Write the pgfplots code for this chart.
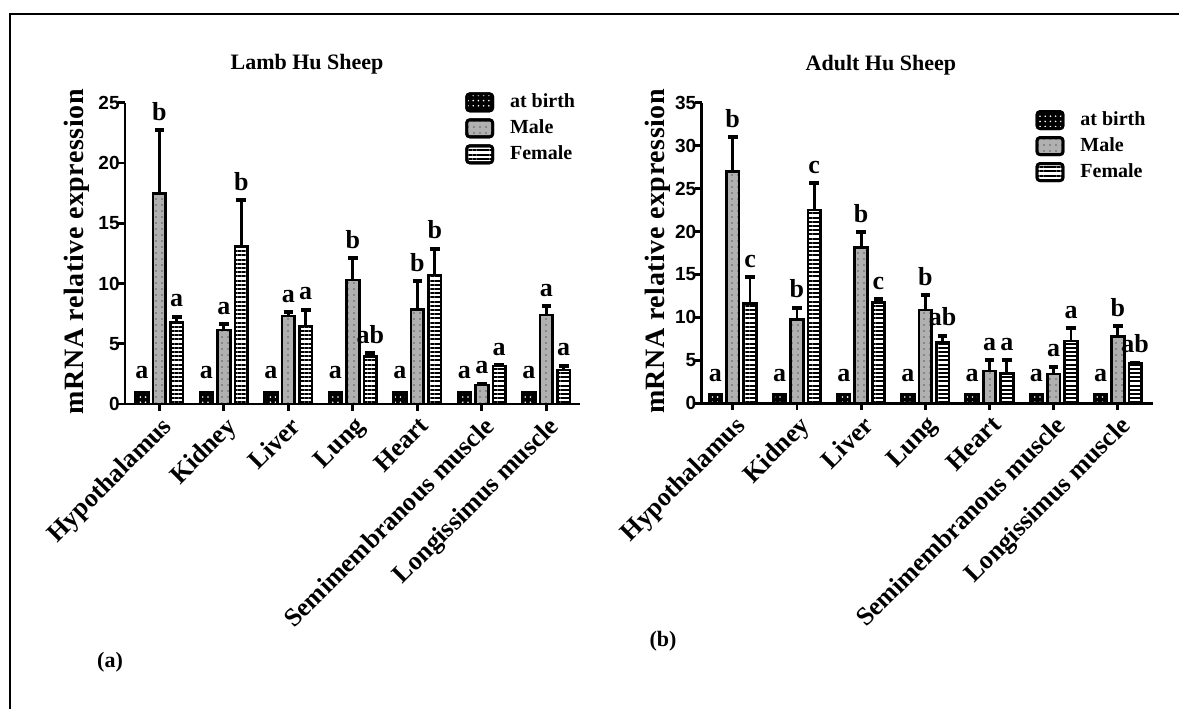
\documentclass[border=0pt]{standalone}
\usepackage{fontspec}
\setmainfont{Liberation Serif}
\setsansfont{Liberation Sans}
\usepackage{pgfplots}
\pgfplotsset{compat=1.18}
\usepackage{pgfplotstable}
\usetikzlibrary{patterns.meta}

% Lamb Hu Sheep
\pgfplotstableread{
x b bl m me ml f fe fl
0 1 a 17.48 5.25 b 6.75 0.50 a
1 1 a 6.14 0.46 a 13.05 3.85 b
2 1 a 7.30 0.30 a 6.47 1.33 a
3 1 a 10.29 1.79 b 3.93 0.27 ab
4 1 a 7.85 2.35 b 10.70 2.20 b
5 1 a 1.58 0.12 a 3.15 0.05 a
6 1 a 7.38 0.75 a 2.82 0.36 a
}\lamb

% Adult Hu Sheep
\pgfplotstableread{
x b bl m me ml f fe fl
0 1 a 26.97 4.00 b 11.64 3.03 c
1 1 a 9.78 1.36 b 22.50 3.10 c
2 1 a 18.12 1.78 b 11.72 0.38 c
3 1 a 10.87 1.73 b 7.06 0.78 ab
4 1 a 3.76 1.28 a 3.49 1.55 a
5 1 a 3.41 0.86 a 7.26 1.47 a
6 1 a 7.76 1.24 b 4.66 0.07 ab
}\adult

\pgfplotsset{
  sheepaxis/.style={
    scale only axis, axis lines*=left, enlargelimits=false, clip=false,
    axis line style={line width=1.4pt},
    tick align=outside, major tick length=3.5pt,
    every tick/.style={line width=1.4pt, black},
    xtick={0,...,6},
    xticklabels={Hypothalamus,Kidney,Liver,Lung,Heart,Semimembranous muscle,Longissimus muscle},
    xticklabel style={rotate=45, anchor=north east, font=\bfseries\fontsize{13}{13}\selectfont, inner sep=1pt, yshift=-0.5pt},
    yticklabel style={font=\sffamily\bfseries\fontsize{9.5}{10}\selectfont, inner xsep=1pt, xshift=2pt},
    /pgf/number format/assume math mode=true,
    ymin=0,
    ylabel={mRNA relative expression},
    ylabel style={font=\bfseries\fontsize{14}{14}\selectfont\addfontfeature{LetterSpace=2}, anchor=center},
    title style={anchor=base, yshift=-6pt, font=\bfseries\fontsize{11}{11}\selectfont},
    legend cell align=left,
    legend image code/.code={\draw[##1, rounded corners=1.5pt] (0pt,-4.25pt) rectangle (13pt,4.25pt); \path (20pt,0pt);},
    legend style={draw=none, fill=none, anchor=north west, inner sep=0pt,
      font=\bfseries\fontsize{10}{10}\selectfont, row sep=2pt,
      nodes={inner sep=1pt, text height=7pt, text depth=2pt}},
    error bars/error mark=|,
    error bars/error bar style={line width=1.4pt, black},
    error bars/error mark options={line width=2pt, mark size=2.4pt, black},
  },
  barbase/.style={ybar, bar width=6.3pt, bar shift=0pt, draw=black, line width=1.4pt},
  birthbar/.style={barbase, fill=black, postaction={pattern color=white, pattern={Dots[distance=2.6pt,radius=0.45pt]}}},
  malebar/.style={barbase, fill=gray!62, postaction={pattern color=black, pattern={Dots[distance=3pt,radius=0.3pt]}}},
  femalebar/.style={barbase, fill=white, postaction={pattern color=black, pattern={Lines[distance=2.1pt,line width=1pt]}}},
  letters/.style={only marks, mark=none, forget plot, nodes near coords, point meta=explicit symbolic,
    nodes near coords style={anchor=base, font=\bfseries\fontsize{13}{13}\selectfont, inner sep=0pt, text=black}},
}

\begin{document}
\begin{tikzpicture}
\useasboundingbox (0,0) rectangle (589.5pt,354.5pt);
\draw[line width=1pt] (5pt,0pt) -- (5pt,347.5pt) -- (589.5pt,347.5pt);

\begin{axis}[sheepaxis,
  at={(62.5pt,152.5pt)}, anchor=south west,
  width=227.5pt, height=150.65pt,
  xmin=-0.532, xmax=6.522, ymax=25, ytick={0,5,...,25},
  title={Lamb Hu Sheep}, title style={at={(0.4,1)}, yshift=16.5pt},
  ylabel style={at={(axis description cs:-0.106,0.505)}},
  legend style={at={(0.747,1.039)}},
]
\addplot[birthbar] table[x expr=\thisrow{x}-0.27, y=b]{\lamb};
\addplot[malebar, error bars/.cd, y dir=plus, y explicit] table[x=x, y=m, y error=me]{\lamb};
\addplot[femalebar, error bars/.cd, y dir=plus, y explicit] table[x expr=\thisrow{x}+0.27, y=f, y error=fe]{\lamb};
\legend{at birth, Male, Female}
\addplot[letters, nodes near coords style={yshift=6.5pt}] table[x expr=\thisrow{x}-0.27, y=b, meta=bl]{\lamb};
\addplot[letters, nodes near coords style={yshift=5pt}] table[x=x, y expr=\thisrow{m}+\thisrow{me}, meta=ml]{\lamb};
\addplot[letters, nodes near coords style={yshift=5pt}] table[x expr=\thisrow{x}+0.27, y expr=\thisrow{f}+\thisrow{fe}, meta=fl]{\lamb};
\end{axis}

\begin{axis}[sheepaxis,
  at={(350.85pt,152.85pt)}, anchor=south west,
  width=225.65pt, height=150.3pt,
  xmin=-0.483, xmax=6.547, ymax=35, ytick={0,5,...,35},
  title={Adult Hu Sheep}, title style={at={(0.397,1)}, yshift=16pt},
  ylabel style={at={(axis description cs:-0.098,0.505)}},
  legend style={at={(0.739,0.98)}},
]
\addplot[birthbar] table[x expr=\thisrow{x}-0.27, y=b]{\adult};
\addplot[malebar, error bars/.cd, y dir=plus, y explicit] table[x=x, y=m, y error=me]{\adult};
\addplot[femalebar, error bars/.cd, y dir=plus, y explicit] table[x expr=\thisrow{x}+0.27, y=f, y error=fe]{\adult};
\legend{at birth, Male, Female}
\addplot[letters, nodes near coords style={yshift=6.5pt}] table[x expr=\thisrow{x}-0.27, y=b, meta=bl]{\adult};
\addplot[letters, nodes near coords style={yshift=5pt}] table[x=x, y expr=\thisrow{m}+\thisrow{me}, meta=ml]{\adult};
\addplot[letters, nodes near coords style={yshift=5pt}] table[x expr=\thisrow{x}+0.27, y expr=\thisrow{f}+\thisrow{fe}, meta=fl]{\adult};
\end{axis}

\node[font=\bfseries\fontsize{11}{11}\selectfont] at (55pt,23.5pt) {(a)};
\node[font=\bfseries\fontsize{11}{11}\selectfont] at (331.5pt,34pt) {(b)};
\end{tikzpicture}
\end{document}
